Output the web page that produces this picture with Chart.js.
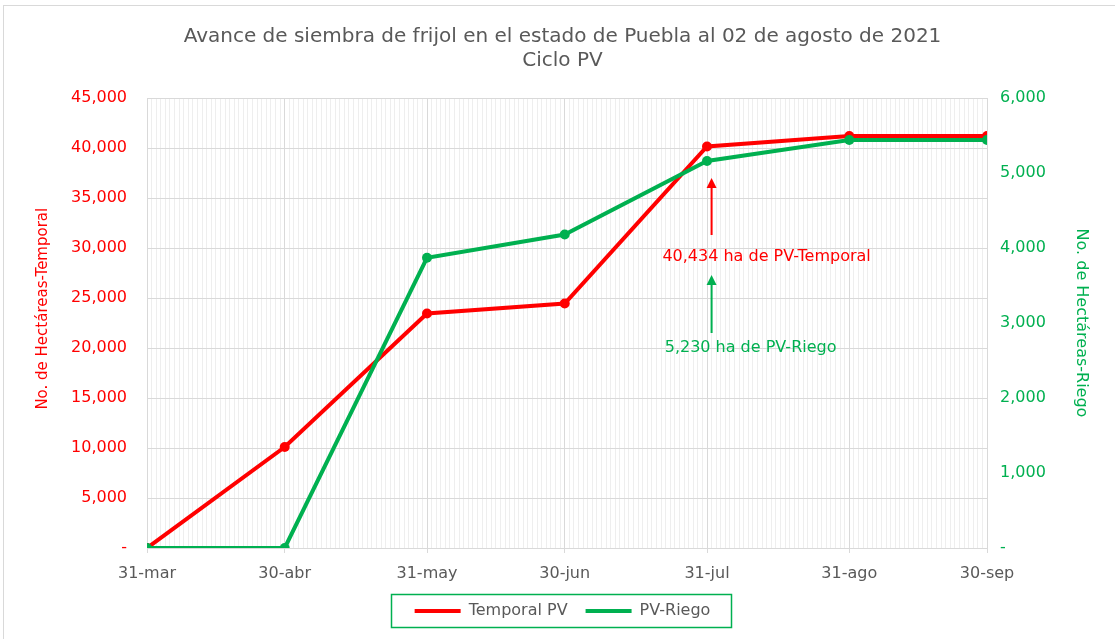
<!DOCTYPE html>
<html>
<head>
<meta charset="utf-8">
<script src="https://cdn.jsdelivr.net/npm/chart.js@4/dist/chart.umd.min.js"></script>
<style>
  html, body { margin: 0; padding: 0; background: #fff; }
  #wrap { width: 1115px; height: 639px; position: relative; }
</style>
</head>
<body>
<div id="wrap"><canvas id="avanceChart"></canvas></div>
<script>
// fechas de corte (días contados desde el 31-mar)
const categorias = ['31-mar', '30-abr', '31-may', '30-jun', '31-jul', '31-ago', '30-sep'];
const dias = [0, 30, 61, 91, 122, 153, 183];
const temporalPV = [0, 10100, 23450, 24450, 40150, 41200, 41200];
const pvRiego = [0, 0, 3870, 4180, 5160, 5440, 5440];
const ticksTemporal = [0, 5000, 10000, 15000, 20000, 25000, 30000, 35000, 40000, 45000];
const ticksRiego = [0, 1000, 2000, 3000, 4000, 5000, 6000];

const ROJO = '#ff0000';
const VERDE = '#00b050';
const GRIS = '#595959';
const FONT = 'DejaVu Sans';

// anotaciones: flecha + texto, en coordenadas de datos (eje izquierdo)
const notas = [
    { texto: '40,434 ha de PV-Temporal', color: ROJO, dia: 123, desde: 31300, hasta: 37000, textoY: 29100, dx: 55 },
    { texto: '5,230 ha de PV-Riego', color: VERDE, dia: 123, desde: 21500, hasta: 27300, textoY: 20000, dx: 39 }
];

const puntos = (ys) => dias.map((d, i) => ({ x: d, y: ys[i] }));

const notasPlugin = {
    id: 'notas',
    afterDatasetsDraw(chart) {
        const { ctx, scales } = chart;
        ctx.save();
        notas.forEach(n => {
            const x = scales.x.getPixelForValue(n.dia);
            const y1 = scales.y.getPixelForValue(n.desde);
            const y2 = scales.y.getPixelForValue(n.hasta);
            ctx.strokeStyle = n.color;
            ctx.fillStyle = n.color;
            ctx.lineWidth = 2;
            ctx.beginPath();
            ctx.moveTo(x, y1);
            ctx.lineTo(x, y2 + 8);
            ctx.stroke();
            ctx.beginPath();
            ctx.moveTo(x, y2);
            ctx.lineTo(x - 5, y2 + 10);
            ctx.lineTo(x + 5, y2 + 10);
            ctx.closePath();
            ctx.fill();
            ctx.font = '16px "' + FONT + '"';
            ctx.textAlign = 'center';
            ctx.textBaseline = 'middle';
            const ty = scales.y.getPixelForValue(n.textoY);
            ctx.fillText(n.texto, x + n.dx, ty);
        });
        ctx.restore();
    },
    afterDraw(chart) {
        const { ctx } = chart;
        const boxes = chart.legend.legendHitBoxes;
        if (boxes && boxes.length) {
            const l = Math.min(...boxes.map(b => b.left));
            const r = Math.max(...boxes.map(b => b.left + b.width));
            const t = Math.min(...boxes.map(b => b.top));
            const h = boxes[0].height;
            ctx.save();
            ctx.strokeStyle = VERDE;
            ctx.lineWidth = 1.5;
            ctx.strokeRect(Math.round(l - 24) + 0.5, Math.round(t - 9) + 0.5, Math.round(r - l + 44), Math.round(h + 17));
            ctx.restore();
        }
        ctx.save();
        ctx.strokeStyle = '#d9d9d9';
        ctx.lineWidth = 1;
        ctx.strokeRect(3.5, 5.5, 1200, 700);
        ctx.restore();
    }
};

new Chart(document.getElementById('avanceChart'), {
    type: 'line',
    data: {
        datasets: [
            {
                label: 'Temporal PV',
                data: puntos(temporalPV),
                yAxisID: 'y',
                borderColor: ROJO,
                backgroundColor: ROJO,
                borderWidth: 4,
                pointRadius: 5,
                pointBorderWidth: 0,
                pointHoverRadius: 5,
                order: 2
            },
            {
                label: 'PV-Riego',
                data: puntos(pvRiego),
                yAxisID: 'y1',
                borderColor: VERDE,
                backgroundColor: VERDE,
                borderWidth: 4,
                pointRadius: 5,
                pointBorderWidth: 0,
                pointHoverRadius: 5,
                order: 1
            }
        ]
    },
    plugins: [notasPlugin],
    options: {
        responsive: true,
        maintainAspectRatio: false,
        animation: false,
        layout: { padding: { left: 30, right: 20, top: 0, bottom: 10 } },
        scales: {
            x: {
                type: 'linear',
                min: dias[0],
                max: dias[dias.length - 1],
                afterBuildTicks: (scale) => {
                    const t = [];
                    for (let d = dias[0]; d <= dias[dias.length - 1]; d++) t.push({ value: d });
                    scale.ticks = t;
                },
                ticks: {
                    autoSkip: false,
                    maxRotation: 0,
                    color: GRIS,
                    font: { family: FONT, size: 16 },
                    padding: 11,
                    callback: (v) => {
                        const i = dias.indexOf(v);
                        return i >= 0 ? categorias[i] : '';
                    }
                },
                grid: {
                    color: (c) => dias.includes(c.tick && c.tick.value) ? '#d9d9d9' : '#eeeeee',
                    tickColor: (c) => dias.includes(c.tick && c.tick.value) ? '#d9d9d9' : 'rgba(0,0,0,0)',
                    tickLength: 5
                },
                border: { color: '#d9d9d9' },
                afterFit: (s) => { s.height = 37; }
            },
            y: {
                position: 'left',
                min: 0,
                max: 45000,
                afterBuildTicks: (scale) => { scale.ticks = ticksTemporal.map(v => ({ value: v })); },
                ticks: {
                    color: ROJO,
                    font: { family: FONT, size: 16 },
                    padding: 20,
                    callback: (v) => v === 0 ? '-' : v.toLocaleString('en-US')
                },
                grid: { color: '#d9d9d9', drawTicks: false },
                border: { display: false },
                title: {
                    display: true,
                    text: '      No. de Hectáreas-Temporal',
                    color: ROJO,
                    font: { family: FONT, size: 15 }
                },
                afterFit: (s) => { s.width = 117; }
            },
            y1: {
                position: 'right',
                min: 0,
                max: 6000,
                afterBuildTicks: (scale) => { scale.ticks = ticksRiego.map(v => ({ value: v })); },
                ticks: {
                    color: VERDE,
                    font: { family: FONT, size: 16 },
                    padding: 13,
                    callback: (v) => v === 0 ? '-' : v.toLocaleString('en-US')
                },
                grid: { display: false, drawTicks: false },
                border: { display: false },
                title: {
                    display: true,
                    text: 'No. de Hectáreas-Riego',
                    color: VERDE,
                    font: { family: FONT, size: 16 }
                },
                afterFit: (s) => { s.width = 108; }
            }
        },
        plugins: {
            title: {
                display: true,
                text: ['Avance de siembra de frijol en el estado de Puebla al 02 de agosto de 2021', 'Ciclo PV'],
                color: GRIS,
                font: { family: FONT, size: 20, weight: 'normal' },
                padding: { top: 25, bottom: 25 },
                lineHeight: 1.15
            },
            legend: {
                position: 'bottom',
                labels: {
                    usePointStyle: true,
                    pointStyle: 'line',
                    pointStyleWidth: 46,
                    color: GRIS,
                    font: { family: FONT, size: 16 },
                    padding: 18,
                    sort: (a, b) => a.datasetIndex - b.datasetIndex,
                    generateLabels: (chart) => Chart.defaults.plugins.legend.labels.generateLabels(chart)
                        .map(item => Object.assign(item, { lineWidth: 4 }))
                }
            },
            tooltip: { enabled: false }
        }
    }
});
</script>
</body>
</html>
